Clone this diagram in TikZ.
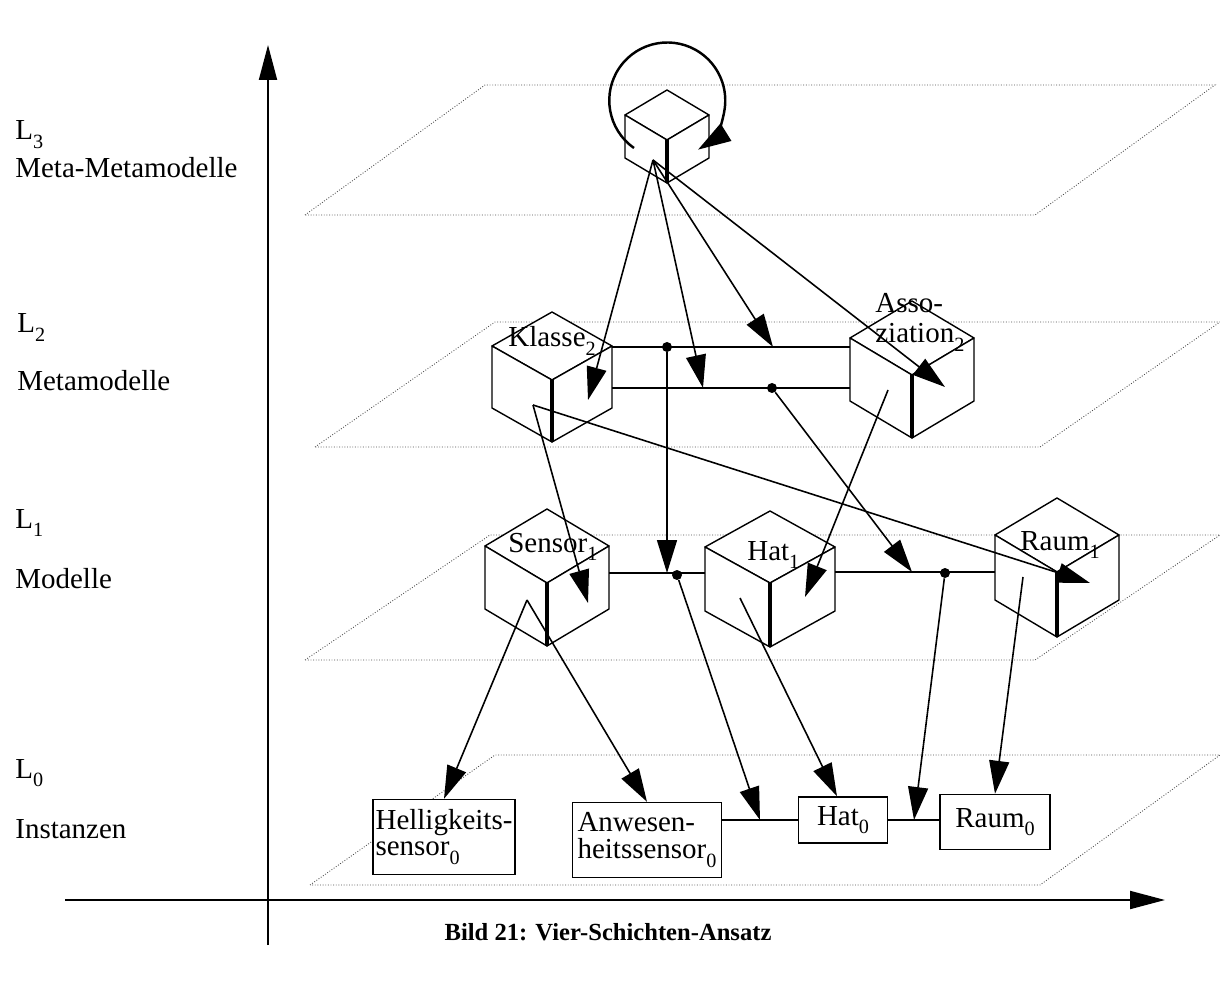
\documentclass[tikz,border=0pt]{standalone}
\usepackage{fontspec}
\setmainfont{Liberation Serif}
\usetikzlibrary{arrows.meta}

% lowered index as in the scan
\newcommand{\ix}[1]{\raisebox{-5pt}{\fontsize{11.5}{12}\selectfont #1}}
% isometric cube: #1 front vertex, #2 half width, #3 half height of top face, #4 edge
\newcommand{\isocube}[4]{%
  \path[cube] (#1) -- ++(-#2,-#3) -- ++(#2,-#3) -- ++(#2,#3) -- cycle;
  \path[cube] (#1) -- ++(-#2,-#3) -- ++(0,#4) -- ++(#2,#3) -- cycle;
  \path[cube] (#1) -- ++(#2,-#3) -- ++(0,#4) -- ++(-#2,#3) -- cycle;
  \draw[cubeedge] (#1) -- ++(0,#4);
}

\begin{document}
\begin{tikzpicture}[
  x=0.02cm, y=-0.02cm,
  plane/.style={densely dotted, line width=0.5pt, black!70},
  axis/.style={line width=1.1pt, -{Triangle[length=0.7cm,width=0.36cm]}},
  cube/.style={draw, fill=white, line width=0.8pt, line join=round},
  cubeedge/.style={line width=1.8pt},
  rel/.style={line width=1.6pt},
  link/.style={line width=0.9pt, -{Triangle[length=0.66cm,width=0.4cm]}},
  dot/.style={circle, fill, inner sep=0pt, minimum size=0.2cm},
  inst/.style={draw, fill=white, line width=0.8pt, align=left, inner sep=1pt,
    font=\fontsize{16.5}{15}\selectfont},
  lbl/.style={inner sep=0pt, font=\fontsize{16.5}{17}\selectfont}
]
\useasboundingbox (0,0) rectangle (1220,989);

% --- Axes ---
\coordinate (ybot) at (268,945);
\coordinate (ytop) at (268,45);
\coordinate (xleft) at (65,900);
\coordinate (xright) at (1165,900);
\draw[axis] (ybot) -- (ytop);
\draw[axis] (xleft) -- (xright);

% --- Layer names ---
\node[lbl,anchor=base west] (l3) at (15,140) {L\ix{3}};
\node[lbl,anchor=base west] (l3name) at (15,178) {Meta-Metamodelle};
\node[lbl,anchor=base west] (l2) at (17,333) {L\ix{2}};
\node[lbl,anchor=base west] (l2name) at (17,391) {Metamodelle};
\node[lbl,anchor=base west] (l1) at (15,528) {L\ix{1}};
\node[lbl,anchor=base west] (l1name) at (15,588) {Modelle};
\node[lbl,anchor=base west] (l0) at (15,778) {L\ix{0}};
\node[lbl,anchor=base west] (l0name) at (15,838) {Instanzen};

% --- Planes ---
\draw[plane] (305,215) -- (485,85) -- (1215,85) -- (1035,215) -- cycle;
\draw[plane] (315,447) -- (495,322) -- (1220,322) -- (1040,447) -- cycle;
\draw[plane] (305,660) -- (490,535) -- (1220,535) -- (1035,660) -- cycle;
\draw[plane] (310,885) -- (495,755) -- (1220,755) -- (1040,885) -- cycle;

% --- Cubes ---
\coordinate (meta) at (667,140);
\coordinate (klasse) at (552,380);
\coordinate (asso) at (912,375);
\coordinate (sensor) at (547,583);
\coordinate (hat) at (770,583);
\coordinate (raum) at (1057,572);
\isocube{meta}{42}{25}{43}
\isocube{klasse}{60}{34}{62}
\isocube{asso}{62}{37}{63}
\isocube{sensor}{62}{37}{63}
\isocube{hat}{65}{36}{64}
\isocube{raum}{62}{37}{65}

\node[lbl,anchor=base west] (klabel) at (508,347) {Klasse\ix{2}};
\node[lbl,anchor=north west,align=left] (alabel) at (875,293) {Asso-\\ziation\ix{2}};
\node[lbl,anchor=base west] (slabel) at (508,552) {Sensor\ix{1}};
\node[lbl,anchor=base west] (hlabel) at (747,560) {Hat\ix{1}};
\node[lbl,anchor=base west] (rlabel) at (1020,550) {Raum\ix{1}};

% --- Instances ---
\node[inst,minimum width=2.84cm,minimum height=1.5cm] (hell) at (444,837) {Helligkeits-\\sensor\ix{0}};
\node[inst,minimum width=2.98cm,minimum height=1.5cm] (anw) at (647,840) {Anwesen-\\heitssensor\ix{0}};
\node[inst,minimum width=1.78cm,minimum height=0.92cm] (hatnull) at (843,820) {Hat\ix{0}};
\node[inst,minimum width=2.2cm,minimum height=1.1cm] (raumnull) at (995,822) {Raum\ix{0}};

% --- Relations ---
\coordinate (k2top) at (612,347);
\coordinate (a2top) at (850,347);
\coordinate (k2low) at (612,388);
\coordinate (a2low) at (850,388);
\coordinate (s1r) at (609,573);
\coordinate (h1l) at (705,573);
\coordinate (h1r) at (835,572);
\coordinate (r1l) at (995,572);
\draw[rel] (k2top) -- (a2top);
\draw[rel] (k2low) -- (a2low);
\draw[rel] (s1r) -- (h1l);
\draw[rel] (h1r) -- (r1l);
\draw[rel] (anw.east |- hatnull.west) -- (hatnull.west);
\draw[rel] (hatnull.east) -- (raumnull.west |- hatnull.east);

\node[dot] (d2a) at (667,347) {};
\node[dot] (d2b) at (772,388) {};
\node[dot] (d1a) at (677,575) {};
\node[dot] (d1b) at (945,573) {};

% --- Instance-of links ---
\coordinate (loop) at (634,148);
\coordinate (m3) at (653,160);
\coordinate (k2in) at (588,400);
\coordinate (t2low) at (703,388);
\coordinate (t2top) at (773,347);
\coordinate (a2in) at (945,387);
\coordinate (k2out) at (533,405);
\coordinate (s1in) at (588,603);
\coordinate (r1in) at (1090,583);
\coordinate (a2out) at (888,390);
\coordinate (h1in) at (805,597);
\coordinate (t1l) at (667,573);
\coordinate (t1r) at (912,572);
\coordinate (s1out) at (527,600);
\coordinate (h1out) at (740,598);
\coordinate (r1out) at (1023,577);
\coordinate (t0l) at (760,820);
\coordinate (t0r) at (914,820);

\draw[link,line width=1.4pt] (loop) arc[start angle=125,end angle=418,radius=58];
\draw[link] (m3) -- (k2in);
\draw[link] (m3) -- (t2low);
\draw[link] (m3) -- (t2top);
\draw[link] (m3) -- (a2in);
\draw[link] (k2out) -- (s1in);
\draw[link] (k2out) -- (r1in);
\draw[link] (a2out) -- (h1in);
\draw[link] (d2a) -- (t1l);
\draw[link] (d2b) -- (t1r);
\draw[link] (s1out) -- (hell.north);
\draw[link] (s1out) -- (anw.north);
\draw[link] (h1out) -- ([xshift=-0.12cm]hatnull.north);
\draw[link] (r1out) -- (raumnull.north);
\draw[link] (d1a) -- (t0l);
\draw[link] (d1b) -- (t0r);

% Caption
\node[font=\bfseries\fontsize{14}{16}\selectfont] (caption) at (608,932) {Bild 21: Vier-Schichten-Ansatz};

\end{tikzpicture}
\end{document}
